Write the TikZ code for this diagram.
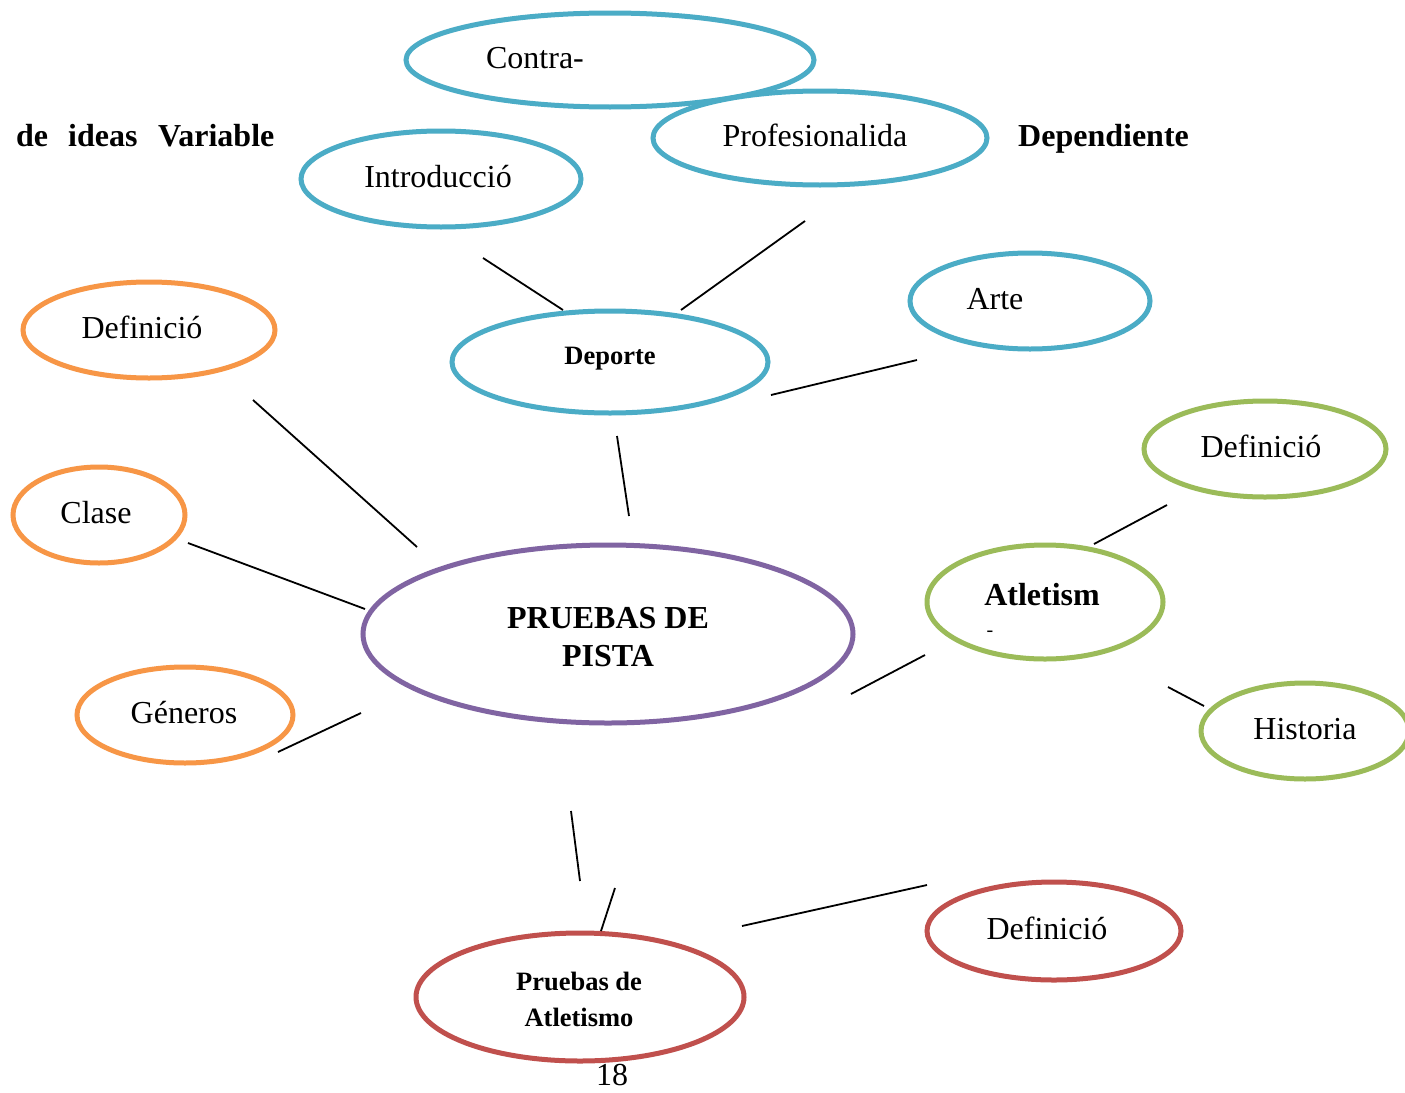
\documentclass[tikz,border=0pt]{standalone}
\usepackage{fontspec}
\setmainfont{Liberation Serif}
\usetikzlibrary{shapes.geometric}
\definecolor{oblue}{HTML}{4BACC6}
\definecolor{oorange}{HTML}{F79646}
\definecolor{opurple}{HTML}{8064A2}
\definecolor{ogreen}{HTML}{9BBB59}
\definecolor{ored}{HTML}{C0504D}
\tikzset{
  oval/.style={ellipse, line width=5pt, fill=white, inner sep=0pt},
  link/.style={line width=1.8pt, draw=black},
  lbl/.style={anchor=base, inner sep=0pt, font=\fontsize{32}{38}\selectfont},
  blbl/.style={anchor=base, inner sep=0pt, font=\fontsize{32}{38}\selectfont\bfseries},
  slbl/.style={anchor=base, inner sep=0pt, font=\fontsize{26.5}{32}\selectfont\bfseries},
  head/.style={anchor=base west, inner sep=0pt, font=\fontsize{32}{38}\selectfont\bfseries}
}
\begin{document}
\begin{tikzpicture}[x=1pt, y=-1pt]
\clip (0,0) rectangle (1405,1092);
\fill[white] (0,0) rectangle (1405,1092);

% heading words
\node[head] (h1) at (16,146) {de};
\node[head] (h2) at (68,146) {ideas};
\node[head] (h3) at (158,146) {Variable};
\node[head] (h4) at (1018,146) {Dependiente};

% ovals
\node[oval, draw=oblue, minimum width=408pt, minimum height=94pt] (contra) at (610,60) {};
\node[oval, draw=oblue, minimum width=334pt, minimum height=94pt] (prof) at (820,138) {};
\node[oval, draw=oblue, minimum width=280pt, minimum height=96pt] (intro) at (441,179) {};
\node[oval, draw=oblue, minimum width=240pt, minimum height=96pt] (arte) at (1030,301) {};
\node[oval, draw=oblue, minimum width=316pt, minimum height=102pt] (deporte) at (610,362) {};
\node[oval, draw=oorange, minimum width=252pt, minimum height=96pt] (defo) at (149,330) {};
\node[oval, draw=oorange, minimum width=172pt, minimum height=96pt] (clase) at (99,515) {};
\node[oval, draw=oorange, minimum width=216pt, minimum height=96pt] (generos) at (185,715) {};
\node[oval, draw=opurple, minimum width=490pt, minimum height=178pt] (pista) at (608,634) {};
\node[oval, draw=ogreen, minimum width=242pt, minimum height=96pt] (defg) at (1265,449) {};
\node[oval, draw=ogreen, minimum width=236pt, minimum height=114pt] (atl) at (1045,602) {};
\node[oval, draw=ogreen, minimum width=208pt, minimum height=96pt] (hist) at (1305,731) {};
\node[oval, draw=ored, minimum width=254pt, minimum height=98pt] (defr) at (1054,931) {};
\node[oval, draw=ored, minimum width=328pt, minimum height=128pt] (pat) at (580,997) {};

% oval texts
\node[lbl] (tcontra) at (535,68) {Contra-};
\node[lbl] (tprof) at (815,146) {Profesionalida};
\node[lbl] (tintro) at (438,187) {Introducció};
\node[lbl] (tarte) at (995,309) {Arte};
\node[slbl] (tdeporte) at (610,364) {Deporte};
\node[lbl] (tdefo) at (142,338) {Definició};
\node[lbl] (tclase) at (96,523) {Clase};
\node[lbl] (tgeneros) at (184,723) {Géneros};
\node[blbl] (tpista1) at (608,628) {PRUEBAS DE};
\node[blbl] (tpista2) at (608,666) {PISTA};
\node[lbl] (tdefg) at (1261,457) {Definició};
\node[blbl] (tatl) at (1042,605) {Atletism};
\node[anchor=base, inner sep=0pt, font=\fontsize{20}{24}\selectfont] (tdash) at (990,636) {-};
\node[lbl] (thist) at (1305,739) {Historia};
\node[lbl] (tdefr) at (1047,939) {Definició};
\node[slbl] (tpat1) at (579,990) {Pruebas de};
\node[slbl] (tpat2) at (579,1026) {Atletismo};
\node[lbl] (pagenum) at (612,1085) {18};

% connector ends
\coordinate (a1) at (483,258);  \coordinate (b1) at (563,310);
\coordinate (a2) at (805,221);  \coordinate (b2) at (681,310);
\coordinate (a3) at (917,360);  \coordinate (b3) at (771,395);
\coordinate (a4) at (617,436);  \coordinate (b4) at (629,516);
\coordinate (a5) at (253,400);  \coordinate (b5) at (417,547);
\coordinate (a6) at (188,543);  \coordinate (b6) at (365,609);
\coordinate (a7) at (361,713);  \coordinate (b7) at (278,752);
\coordinate (a8) at (925,655);  \coordinate (b8) at (851,694);
\coordinate (a9) at (1167,505); \coordinate (b9) at (1094,544);
\coordinate (a10) at (1168,687); \coordinate (b10) at (1204,706);
\coordinate (a11) at (571,811); \coordinate (b11) at (580,881);
\coordinate (a12) at (615,888); \coordinate (b12) at (601,931);
\coordinate (a13) at (927,885); \coordinate (b13) at (742,926);

\foreach \i in {1,...,13} { \draw[link] (a\i) -- (b\i); }
\end{tikzpicture}
\end{document}
